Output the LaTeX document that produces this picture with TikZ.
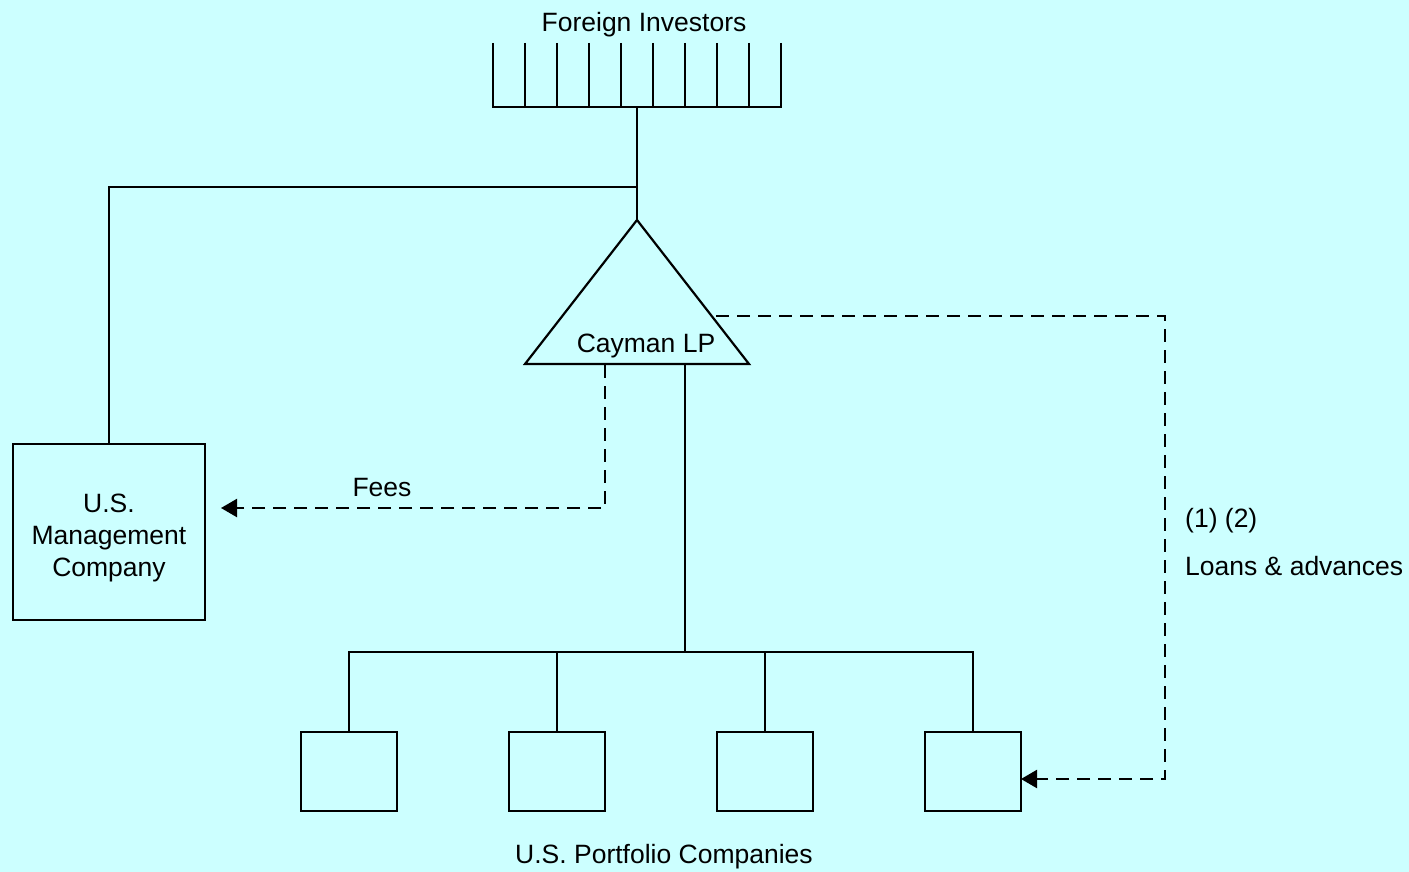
\documentclass[tikz,border=0pt]{standalone}
\usepackage{fontspec}
\setmainfont{Liberation Sans}
\usetikzlibrary{arrows.meta}
\definecolor{bgcyan}{HTML}{CCFFFF}
\begin{document}
\begin{tikzpicture}[x=1pt,y=-1pt,
  every node/.style={font=\fontsize{26.5}{32}\selectfont},
  ln/.style={line width=2.2pt},
  dln/.style={line width=2.2pt,dash pattern=on 13pt off 8pt},
  boxn/.style={draw,line width=2.2pt,rectangle,inner sep=0pt,outer sep=0pt},
  pbox/.style={boxn,minimum width=96pt,minimum height=79pt},
  lbl/.style={inner sep=0pt,anchor=base},
  tip/.style={-{Triangle[length=16pt,width=18pt]}}]
\fill[bgcyan] (0,0) rectangle (1409,872);
\useasboundingbox (0,0) rectangle (1409,872);
% foreign investors comb
\node[lbl] (fi) at (644,32) {Foreign Investors};
\draw[ln] (493,107) -- (781,107);
\foreach \x in {493,525,557,589,621,653,685,717,749,781}
  \draw[ln] (\x,43) -- (\x,108);
\coordinate (combbot) at (637,107);
\coordinate (apex) at (637,220);
\coordinate (bl) at (525,364);
\coordinate (br) at (749,364);
\coordinate (jn) at (637,187);
% Cayman LP triangle
\draw[ln,line join=miter] (apex) -- (br) -- (bl) -- cycle;
\node[lbl] (cay) at (646,352) {Cayman LP};
\draw[ln] (combbot) -- (apex);
% management company
\node[boxn,minimum width=192pt,minimum height=176pt] (mgmt) at (109,532) {};
\node[lbl] (mgtxt) at (109,512) {U.S.};
\node[lbl] (mgtxt2) at (109,544) {Management};
\node[lbl] (mgtxt3) at (109,576) {Company};
\draw[ln] (jn) -| (mgmt.north);
% fees
\coordinate (fs) at (605,365);
\coordinate (ft) at (221,508);
\draw[dln,tip] (fs) |- (ft);
\node[lbl] (fees) at (382,496) {Fees};
% portfolio companies
\coordinate (cs) at (685,365);
\coordinate (bus) at (685,652);
\node[pbox] (p1) at (349,771.5) {};
\node[pbox] (p2) at (557,771.5) {};
\node[pbox] (p3) at (765,771.5) {};
\node[pbox] (p4) at (973,771.5) {};
\draw[ln] (cs) -- (bus);
\draw[ln] (p1.north) |- (p4.north |- bus) -- (p4.north);
\draw[ln] (p2.north) -- (p2.north |- bus);
\draw[ln] (p3.north) -- (p3.north |- bus);
\node[lbl] (pc) at (664,863) {U.S. Portfolio Companies};
% loans
\coordinate (ls) at (716,316);
\coordinate (lc) at (1165,316);
\coordinate (lt) at (1021,779);
\draw[dln,tip] (ls) -- (lc) |- (lt);
\node[lbl,anchor=base west] (n12) at (1185,527) {(1) (2)};
\node[lbl,anchor=base west] (loans) at (1185,575) {Loans \& advances};
\end{tikzpicture}
\end{document}
